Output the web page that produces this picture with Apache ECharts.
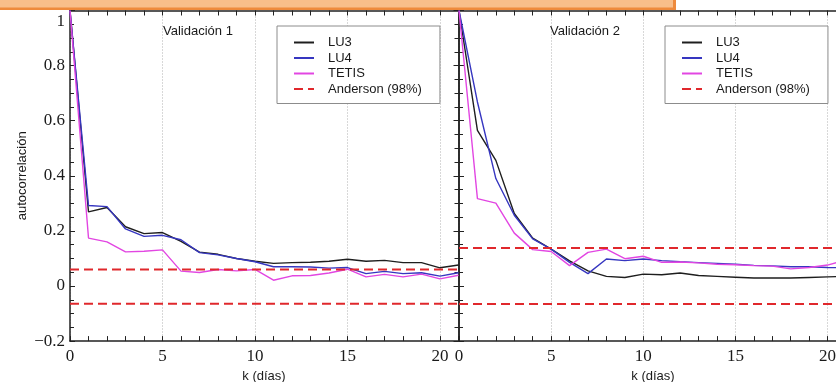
<!DOCTYPE html>
<html>
<head>
<meta charset="utf-8">
<script src="https://cdn.jsdelivr.net/npm/echarts@6/dist/echarts.min.js"></script>
<style>
  html, body { margin: 0; padding: 0; background: #ffffff; }
  #chart { width: 836px; height: 382px; }
</style>
</head>
<body>
<div id="chart"></div>
<script>
// Lags (days) and autocorrelation of the residuals for each model
const lags = [0, 1, 2, 3, 4, 5, 6, 7, 8, 9, 10, 11, 12, 13, 14, 15, 16, 17, 18, 19, 20, 21];

const panelTitles = ['Validación 1', 'Validación 2'];
const xAxisTitle = 'k (días)';
const yAxisTitle = 'autocorrelación';
const seriesNames = ['LU3', 'LU4', 'TETIS', 'Anderson (98%)'];

// Validación 1
const lu3Val1   = [1.0, 0.269, 0.285, 0.215, 0.190, 0.194, 0.162, 0.123, 0.115, 0.100, 0.090, 0.082, 0.085, 0.086, 0.090, 0.097, 0.090, 0.093, 0.085, 0.085, 0.066, 0.076];
const lu4Val1   = [1.0, 0.292, 0.288, 0.207, 0.180, 0.184, 0.168, 0.121, 0.113, 0.100, 0.088, 0.070, 0.070, 0.069, 0.065, 0.067, 0.045, 0.053, 0.045, 0.048, 0.036, 0.048];
const tetisVal1 = [1.0, 0.174, 0.160, 0.124, 0.126, 0.131, 0.054, 0.049, 0.060, 0.055, 0.060, 0.021, 0.037, 0.038, 0.047, 0.061, 0.033, 0.042, 0.033, 0.043, 0.026, 0.039];
const andersonVal1 = [0.060, -0.064];

// Validación 2
const lu3Val2   = [1.0, 0.565, 0.456, 0.263, 0.174, 0.134, 0.091, 0.055, 0.035, 0.031, 0.043, 0.041, 0.047, 0.038, 0.035, 0.032, 0.029, 0.029, 0.029, 0.031, 0.033, 0.035];
const lu4Val2   = [1.0, 0.668, 0.390, 0.257, 0.171, 0.134, 0.086, 0.045, 0.098, 0.092, 0.098, 0.092, 0.088, 0.085, 0.082, 0.079, 0.075, 0.073, 0.070, 0.070, 0.067, 0.066];
const tetisVal2 = [1.0, 0.317, 0.301, 0.192, 0.132, 0.125, 0.074, 0.122, 0.134, 0.099, 0.108, 0.086, 0.087, 0.084, 0.079, 0.077, 0.074, 0.072, 0.062, 0.067, 0.076, 0.095];
const andersonVal2 = [0.138, -0.065];

// Axis ranges and tick steps
const kRange = [0, 21];
const kLabelStep = 5;
const rRange = [-0.2, 1.0];
const rStep = 0.2;

const colors = {
  lu3: '#1e1e1e',
  lu4: '#3636c0',
  tetis: '#e246e2',
  anderson: '#e0282c',
  frame: '#222222',
  text: '#1a1a1a',
  grid: '#b0b0b0'
};

const panels = [
  { lu3: lu3Val1, lu4: lu4Val1, tetis: tetisVal1, anderson: andersonVal1,
    grid: { left: 70, top: 10.5, width: 388.5, height: 330.6 },
    legend: { left: 277, top: 26 }, title: { left: 163, top: 25 },
    xName: { left: 264, top: 370 }, yLabels: true },
  { lu3: lu3Val2, lu4: lu4Val2, tetis: tetisVal2, anderson: andersonVal2,
    grid: { left: 459, top: 10.5, width: 387, height: 330.6 },
    legend: { left: 665, top: 26 }, title: { left: 550, top: 25 },
    xName: { left: 653, top: 370 }, yLabels: false }
];

const serifFont = '"Liberation Serif", "Times New Roman", serif';
const sansFont = '"Liberation Sans", Arial, sans-serif';

function formatR(v) {
  const r = Math.round(v * 100) / 100;
  if (r === 1) return '{top|1}';
  if (r < 0) return '\u2212' + Math.abs(r);
  return String(r);
}

const grids = [], xAxes = [], yAxes = [], series = [], legends = [], titles = [];

panels.forEach((p, i) => {
  grids.push(Object.assign({ outerBoundsMode: 'none', containLabel: false }, p.grid));

  const tickAxis = {
    gridIndex: i, type: 'value', min: kRange[0], max: kRange[1], interval: 1
  };
  // bottom axis: frame, unit ticks and labels every 5 days
  xAxes.push(Object.assign({}, tickAxis, {
    position: 'bottom',
    axisLine: { show: true, onZero: false, lineStyle: { color: colors.frame, width: 1.5 } },
    axisTick: { show: true, inside: true, length: 5, lineStyle: { color: colors.frame, width: 1 } },
    axisLabel: {
      show: true, margin: 7, color: colors.text, fontFamily: serifFont, fontSize: 17,
      formatter: v => (v % kLabelStep === 0 ? String(v) : '')
    },
    splitLine: { show: false }
  }));
  // dotted vertical grid lines every 5 days
  xAxes.push({
    gridIndex: i, type: 'value', min: kRange[0], max: kRange[1], interval: kLabelStep,
    position: 'bottom',
    axisLine: { show: false }, axisTick: { show: false }, axisLabel: { show: false },
    splitLine: { show: true, lineStyle: { color: colors.grid, type: [1, 2], width: 1 } }
  });
  // top frame with ticks
  xAxes.push(Object.assign({}, tickAxis, {
    position: 'top',
    axisLine: { show: true, onZero: false, lineStyle: { color: colors.frame, width: 1.5 } },
    axisTick: { show: true, inside: true, length: 5, lineStyle: { color: colors.frame, width: 1 } },
    axisLabel: { show: false },
    splitLine: { show: false }
  }));

  const yBase = {
    gridIndex: i, type: 'value', min: rRange[0], max: rRange[1], interval: rStep,
    axisLine: { show: true, onZero: false, lineStyle: { color: colors.frame, width: 1.5 } },
    axisTick: { show: true, inside: true, length: 5, lineStyle: { color: colors.frame, width: 1 } },
    minorTick: { show: true, splitNumber: 4, length: 4, lineStyle: { color: colors.frame, width: 1 } },
    splitLine: { show: false }
  };
  yAxes.push(Object.assign({}, yBase, {
    position: 'left',
    axisLabel: {
      show: p.yLabels, margin: 5, color: colors.text, fontFamily: serifFont, fontSize: 17,
      formatter: formatR,
      rich: { top: { padding: [22, 0, 0, 0], fontFamily: serifFont, fontSize: 17, color: colors.text } }
    },
    name: p.yLabels ? yAxisTitle : '',
    nameLocation: 'middle', nameGap: 41, nameRotate: 90,
    nameTextStyle: { color: colors.text, fontFamily: sansFont, fontSize: 13 }
  }));
  yAxes.push(Object.assign({}, yBase, {
    position: 'right',
    axisLabel: { show: false }
  }));

  const xIdx = i * 3, yIdx = i * 2;
  const lineSeries = (name, values, color) => ({
    name, type: 'line', xAxisIndex: xIdx, yAxisIndex: yIdx,
    data: lags.map((k, j) => [k, values[j]]),
    symbol: 'none', showSymbol: false,
    lineStyle: { color, width: 1.4 }, itemStyle: { color },
    animation: false
  });
  series.push(lineSeries(seriesNames[0], p.lu3, colors.lu3));
  series.push(lineSeries(seriesNames[1], p.lu4, colors.lu4));
  series.push(lineSeries(seriesNames[2], p.tetis, colors.tetis));
  p.anderson.forEach(level => {
    series.push({
      name: seriesNames[3], type: 'line', xAxisIndex: xIdx, yAxisIndex: yIdx,
      data: [[lags[0], level], [lags[lags.length - 1], level]],
      symbol: 'none', showSymbol: false,
      lineStyle: { color: colors.anderson, width: 2, type: [9, 5] },
      itemStyle: { color: colors.anderson },
      animation: false, z: 3
    });
  });

  legends.push({
    left: p.legend.left, top: p.legend.top, orient: 'vertical',
    data: seriesNames,
    itemWidth: 20, itemHeight: 10, itemGap: 0.5,
    padding: [9, 18, 7, 16],
    borderColor: '#8c8c8c', borderWidth: 1, backgroundColor: '#ffffff',
    itemStyle: { opacity: 0 },
    lineStyle: { width: 2 },
    textStyle: { color: colors.text, fontFamily: sansFont, fontSize: 13, lineHeight: 15, padding: [0, 0, 0, 9] },
    selectedMode: false
  });

  titles.push({
    text: panelTitles[i], left: p.title.left, top: p.title.top, padding: 0,
    textStyle: { color: colors.text, fontFamily: sansFont, fontSize: 13, fontWeight: 'normal' }
  });
  // x axis caption under each panel
  titles.push({
    text: xAxisTitle, left: p.xName.left, top: p.xName.top, padding: 0, textAlign: 'center',
    textStyle: { color: colors.text, fontFamily: sansFont, fontSize: 13, fontWeight: 'normal' }
  });
});

const chart = echarts.init(document.getElementById('chart'), null, { renderer: 'canvas' });
chart.setOption({
  backgroundColor: '#ffffff',
  animation: false,
  title: titles,
  legend: legends,
  grid: grids,
  xAxis: xAxes,
  yAxis: yAxes,
  series: series,
  graphic: [
    { type: 'rect', left: 0, top: 0, z: 100, shape: { width: 676, height: 10 }, style: { fill: '#ee8a3c' } },
    { type: 'rect', left: 0, top: 0, z: 101, shape: { width: 673, height: 7.5 }, style: { fill: '#f8be8a' } }
  ]
});
</script>
</body>
</html>
